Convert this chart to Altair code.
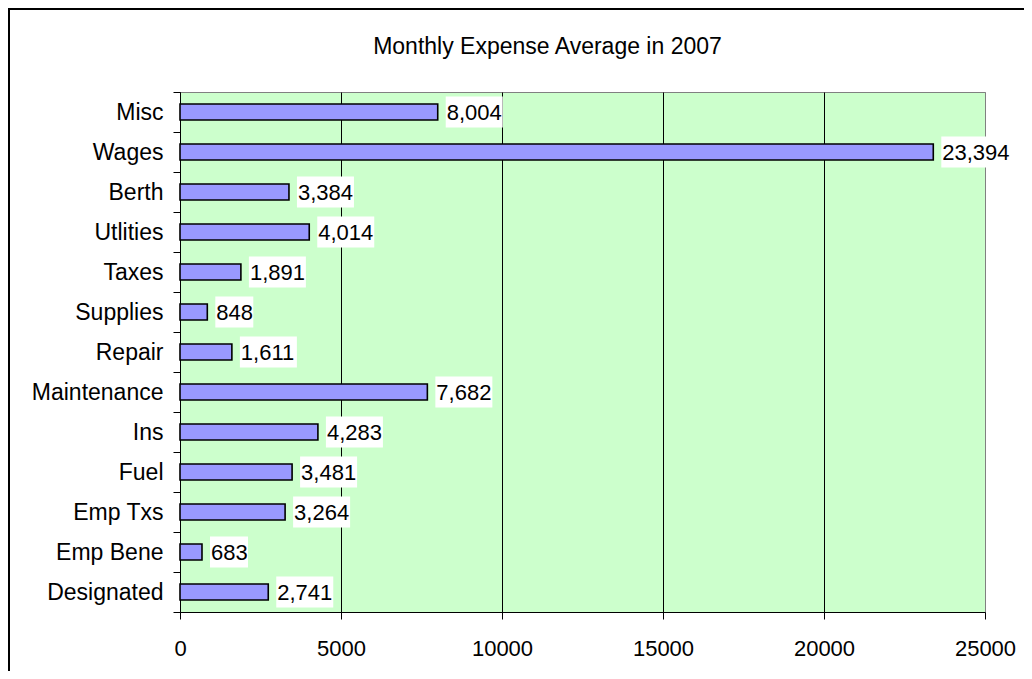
import altair as alt
import pandas as pd

categories = ["Misc", "Wages", "Berth", "Utlities", "Taxes", "Supplies", "Repair",
              "Maintenance", "Ins", "Fuel", "Emp Txs", "Emp Bene", "Designated"]
values = [8004, 23394, 3384, 4014, 1891, 848, 1611, 7682, 4283, 3481, 3264, 683, 2741]
x_ticks = [0, 5000, 10000, 15000, 20000, 25000]
title_text = "Monthly Expense Average in 2007"

df = pd.DataFrame({"cat": categories, "v": values})
FONT = "Liberation Sans"

y_enc = alt.Y("cat:N", sort=categories, title=None,
              scale=alt.Scale(paddingInner=0, paddingOuter=0),
              axis=alt.Axis(tickBand="extent", tickSize=7, tickColor="black",
                            domainColor="black", labelPadding=10, labelFontSize=23,
                            labelFont=FONT, labelColor="black", grid=False))
x_scale = alt.Scale(domain=[0, 25000], nice=False)

base = alt.Chart(df).transform_calculate(
    label="format(datum.v, ',')", n="length(format(datum.v, ','))")

bars = base.mark_bar(size=16, fill="#9999FF", stroke="black", strokeWidth=1.6).encode(
    x=alt.X("v:Q", scale=x_scale, title=None,
            axis=alt.Axis(values=x_ticks, format="d", tickSize=7, tickColor="black",
                          domainColor="black", labelFontSize=22, labelFont=FONT,
                          labelColor="black", labelPadding=19, labelFlush=False,
                          grid=True,
                          gridColor={"condition": {"test": "datum.value === 25000", "value": "#808080"},
                                     "value": "black"},
                          gridWidth=1)),
    y=y_enc,
)

boxes = []
for n, w in [(3, 38), (5, 57), (6, 69)]:
    boxes.append(base.transform_filter(f"datum.n == {n}").mark_bar(
        size=31, fill="white", xOffset=8, x2Offset=8 + w).encode(
        x="v:Q", x2="v:Q", y=alt.Y("cat:N", sort=categories)))

texts = base.mark_text(align="left", baseline="middle", dx=9, dy=1, fontSize=22,
                       font=FONT, color="black").encode(
    x="v:Q", y=alt.Y("cat:N", sort=categories), text="label:N")

border = alt.Chart(alt.Data(values=[{}])).mark_rect(
    fill=None, stroke="black", strokeWidth=2).encode(
    x=alt.value(-171), x2=alt.value(900), y=alt.value(-83), y2=alt.value(700))

title = alt.Chart(alt.Data(values=[{"t": title_text}])).mark_text(
    fontSize=23, font=FONT, color="black", align="center", baseline="alphabetic").encode(
    text="t:N", x=alt.value(367.5), y=alt.value(-38))

chart = alt.layer(border, title, bars, *boxes, texts).properties(
    width=805, height=520,
    padding={"left": 172, "top": 84, "right": 39, "bottom": 59},
    autosize=alt.AutoSizeParams(type="none"),
).configure_view(fill="#CCFFCC", stroke="#808080", strokeWidth=1)

chart.save("out.html", embed_options={"renderer": "svg", "actions": False})
